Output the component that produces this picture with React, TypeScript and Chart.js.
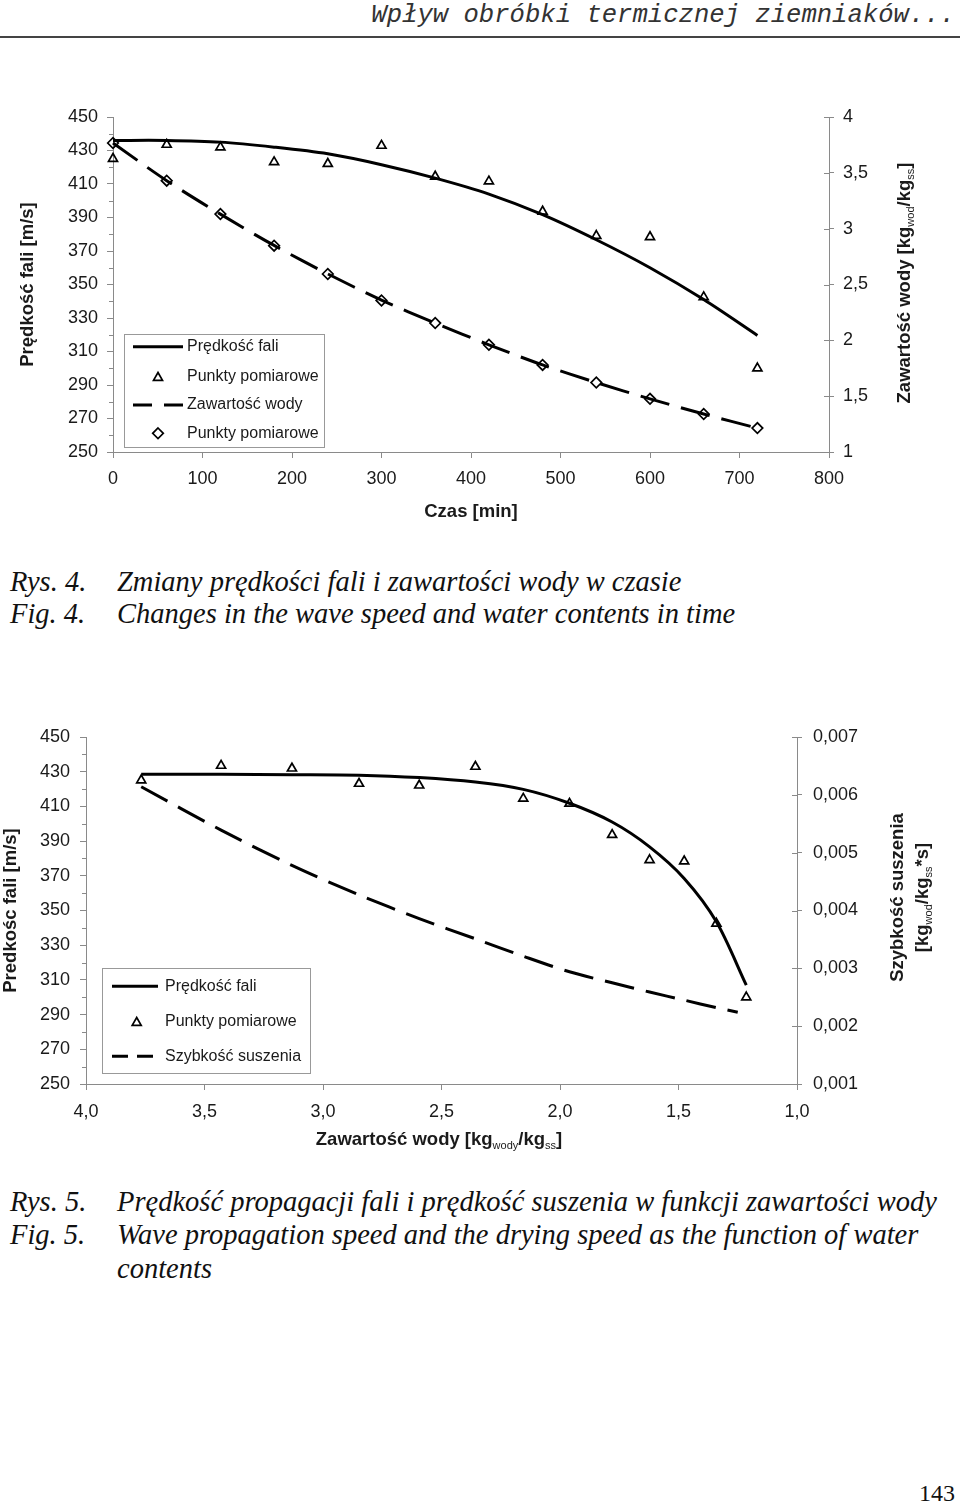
import React, { useEffect, useRef } from 'react';
import { Chart, registerables } from 'chart.js';

Chart.register(...registerables);

const SANS = "'Liberation Sans', Arial, Helvetica, sans-serif";
const SERIF = "'Liberation Serif', 'Times New Roman', serif";
const MONO = "'Liberation Mono', 'Courier New', monospace";
const INK = '#1a1a1a';
const AXIS = '#8a8a8a';

// ---------- Fig. 4 : wave speed and water content vs time ----------
const timeMin = [0, 60, 120, 180, 240, 300, 360, 420, 480, 540, 600, 660, 720];
const speedMeasured = [425.1, 433.5, 431.9, 423.1, 422.1, 432.9, 414.5, 411.6, 393.6, 379.1, 378.4, 342.5, 300];
const speedFitTime = [436, 436, 435, 432, 428, 421.5, 413.5, 404, 391.7, 376.7, 360, 341, 319.6];
const waterMeasured = [3.767, 3.43, 3.131, 2.848, 2.594, 2.357, 2.155, 1.96, 1.78, 1.622, 1.476, 1.34, 1.214];
const waterFit = [3.767, 3.43, 3.13, 2.85, 2.595, 2.36, 2.155, 1.96, 1.78, 1.622, 1.476, 1.34, 1.214];

const timeTicks = [0, 100, 200, 300, 400, 500, 600, 700, 800];
const timeTickLabels = ['0', '100', '200', '300', '400', '500', '600', '700', '800'];
const speedTicks = [250, 270, 290, 310, 330, 350, 370, 390, 410, 430, 450];
const speedTickLabels = ['250', '270', '290', '310', '330', '350', '370', '390', '410', '430', '450'];
const speedMinorTicks = [260, 280, 300, 320, 340, 360, 380, 400, 420, 440];
const waterTicks = [1, 1.5, 2, 2.5, 3, 3.5, 4];
const waterTickLabels = ['1', '1,5', '2', '2,5', '3', '3,5', '4'];

// ---------- Fig. 5 : wave speed and drying speed vs water content ----------
const speedFitWater = [428.5, 428.5, 428.3, 428, 426.6, 424, 419.8, 411.8, 401, 386.7, 368.5, 343.5, 307];
const dryingWater = [3.767, 3.43, 3.131, 2.848, 2.594, 2.357, 2.155, 1.96, 1.78, 1.622, 1.476, 1.34, 1.25];
const dryingSpeed = [0.00614, 0.00539, 0.00478, 0.00427, 0.00386, 0.00351, 0.00321, 0.00294, 0.00275, 0.00259, 0.00245, 0.00232, 0.00224];

const contentTicks = [1, 1.5, 2, 2.5, 3, 3.5, 4];
const contentTickLabels = ['1,0', '1,5', '2,0', '2,5', '3,0', '3,5', '4,0'];
const dryTicks = [0.001, 0.002, 0.003, 0.004, 0.005, 0.006, 0.007];
const dryTickLabels = ['0,001', '0,002', '0,003', '0,004', '0,005', '0,006', '0,007'];

type Part = { t: string; sub?: boolean };
type Rich = { parts: Part[]; x: number; y: number; rotate: boolean };
type LegendRow = { kind: 'line' | 'dash' | 'tri' | 'dia'; y: number; text: string };
type LegendSpec = { box: [number, number, number, number]; sample: [number, number]; markerX: number; textX: number; dash: number[]; rows: LegendRow[] };

const TRI_R = 5.2;
const DIA_R = 5.3;
const MARK_W = 1.7;

function drawTri(ctx: CanvasRenderingContext2D, x: number, y: number, r: number) {
  ctx.beginPath();
  for (let k = 0; k < 3; k++) {
    const a = (k * 2 * Math.PI) / 3;
    const px = x + Math.sin(a) * r;
    const py = y - Math.cos(a) * r;
    if (k === 0) ctx.moveTo(px, py);
    else ctx.lineTo(px, py);
  }
  ctx.closePath();
  ctx.stroke();
}
function drawDia(ctx: CanvasRenderingContext2D, x: number, y: number, r: number) {
  ctx.beginPath();
  ctx.moveTo(x, y - r);
  ctx.lineTo(x + r, y);
  ctx.lineTo(x, y + r);
  ctx.lineTo(x - r, y);
  ctx.closePath();
  ctx.stroke();
}

function drawRich(ctx: CanvasRenderingContext2D, r: Rich, size: number) {
  ctx.save();
  ctx.translate(r.x, r.y);
  if (r.rotate) ctx.rotate(-Math.PI / 2);
  const main = `bold ${size}px ${SANS}`;
  const sub = `${Math.round(size * 0.62)}px ${SANS}`;
  let total = 0;
  for (const p of r.parts) {
    ctx.font = p.sub ? sub : main;
    total += ctx.measureText(p.t).width;
  }
  let x = -total / 2;
  ctx.textBaseline = 'middle';
  ctx.textAlign = 'left';
  ctx.fillStyle = INK;
  for (const p of r.parts) {
    ctx.font = p.sub ? sub : main;
    ctx.fillText(p.t, x, p.sub ? size * 0.32 : 0);
    x += ctx.measureText(p.t).width;
  }
  ctx.restore();
}

function extrasPlugin(minor: number[], legend: LegendSpec, titles: Rich[]) {
  return {
    id: 'extras',
    afterDraw(chart: any) {
      const ctx: CanvasRenderingContext2D = chart.ctx;
      const ca = chart.chartArea;
      const y = chart.scales.y;
      const y1 = chart.scales.y1;
      ctx.save();
      ctx.strokeStyle = AXIS;
      ctx.lineWidth = 1;
      ctx.beginPath();
      for (const v of minor) {
        const py = Math.round(y.getPixelForValue(v)) + 0.5;
        ctx.moveTo(ca.left - 4, py);
        ctx.lineTo(ca.left, py);
      }
      for (const t of y1.ticks) {
        const py = Math.round(y1.getPixelForValue(t.value)) + 0.5;
        ctx.moveTo(ca.right, py);
        ctx.lineTo(ca.right - 5, py);
      }
      ctx.stroke();

      const [bx, by, bw, bh] = legend.box;
      ctx.fillStyle = '#fff';
      ctx.fillRect(bx, by, bw, bh);
      ctx.strokeStyle = '#999';
      ctx.lineWidth = 1;
      ctx.strokeRect(Math.round(bx) + 0.5, Math.round(by) + 0.5, Math.round(bw), Math.round(bh));
      ctx.font = `16px ${SANS}`;
      ctx.textBaseline = 'middle';
      ctx.textAlign = 'left';
      for (const row of legend.rows) {
        ctx.strokeStyle = '#000';
        if (row.kind === 'line' || row.kind === 'dash') {
          ctx.lineWidth = 3;
          ctx.setLineDash(row.kind === 'dash' ? legend.dash : []);
          ctx.beginPath();
          ctx.moveTo(legend.sample[0], row.y);
          ctx.lineTo(legend.sample[1], row.y);
          ctx.stroke();
          ctx.setLineDash([]);
        } else if (row.kind === 'tri') {
          ctx.lineWidth = MARK_W;
          drawTri(ctx, legend.markerX, row.y + 1, TRI_R);
        } else {
          ctx.lineWidth = MARK_W;
          drawDia(ctx, legend.markerX, row.y, DIA_R);
        }
        ctx.fillStyle = INK;
        ctx.fillText(row.text, legend.textX, row.y);
      }

      for (const t of titles) drawRich(ctx, t, 18.5);
      ctx.restore();
    },
  };
}

function tickFont() {
  return { family: SANS, size: 18 };
}
function titleFont() {
  return { family: SANS, size: 18.5, weight: 'bold' as const };
}

const lineBase = { showLine: true, borderColor: '#000', borderWidth: 3, pointRadius: 0, tension: 0.3, clip: false };
const triBase = {
  showLine: false, pointStyle: 'triangle', pointRadius: TRI_R, pointBorderWidth: MARK_W,
  pointBorderColor: '#000', pointBackgroundColor: 'rgba(0,0,0,0)', clip: false,
};
const diaBase = {
  showLine: false, pointStyle: 'rectRot', pointRadius: DIA_R, pointBorderWidth: MARK_W,
  pointBorderColor: '#000', pointBackgroundColor: 'rgba(0,0,0,0)', clip: false,
};

function buildFig4() {
  return {
    type: 'scatter',
    data: {
      datasets: [
        { ...lineBase, label: 'Prędkość fali', data: timeMin.map((t, i) => ({ x: t, y: speedFitTime[i] })), yAxisID: 'y', order: 2 },
        { ...triBase, label: 'Punkty pomiarowe', data: timeMin.map((t, i) => ({ x: t, y: speedMeasured[i] })), yAxisID: 'y', order: 0 },
        { ...lineBase, borderDash: [30, 12], label: 'Zawartość wody', data: timeMin.map((t, i) => ({ x: t, y: waterFit[i] })), yAxisID: 'y1', order: 3 },
        { ...diaBase, label: 'Punkty pomiarowe', data: timeMin.map((t, i) => ({ x: t, y: waterMeasured[i] })), yAxisID: 'y1', order: 1 },
      ],
    },
    options: {
      animation: false,
      responsive: true,
      maintainAspectRatio: false,
      events: [],
      layout: { padding: { top: 27, left: 0, right: 0, bottom: 0 } },
      plugins: { legend: { display: false }, tooltip: { enabled: false } },
      scales: {
        x: {
          type: 'linear', position: 'bottom', min: 0, max: 800,
          afterBuildTicks: (s: any) => { s.ticks = timeTicks.map((v) => ({ value: v })); },
          ticks: { autoSkip: false, maxRotation: 0, padding: 10, color: INK, font: tickFont(), callback: (_v: any, i: number) => timeTickLabels[i] },
          grid: { drawOnChartArea: false, drawTicks: true, tickLength: 6, color: AXIS },
          border: { display: true, color: AXIS, width: 1 },
          title: { display: true, text: 'Czas [min]', color: INK, font: titleFont(), padding: { top: 0, bottom: 17 } },
          afterFit: (s: any) => { s.height = 88; },
        },
        y: {
          type: 'linear', position: 'left', min: 250, max: 450,
          afterBuildTicks: (s: any) => { s.ticks = speedTicks.map((v) => ({ value: v })); },
          ticks: { autoSkip: false, padding: 9, color: INK, font: tickFont(), callback: (_v: any, i: number) => speedTickLabels[i] },
          grid: { drawOnChartArea: false, drawTicks: true, tickLength: 6, color: AXIS },
          border: { display: true, color: AXIS, width: 1 },
          title: { display: true, text: 'Prędkość fali [m/s]', color: INK, font: titleFont(), padding: { top: 17, bottom: 0 } },
          afterFit: (s: any) => { s.width = 113; },
        },
        y1: {
          type: 'linear', position: 'right', min: 1, max: 4,
          afterBuildTicks: (s: any) => { s.ticks = waterTicks.map((v) => ({ value: v })); },
          ticks: { autoSkip: false, padding: 9, color: INK, font: tickFont(), callback: (_v: any, i: number) => waterTickLabels[i] },
          grid: { drawOnChartArea: false, drawTicks: true, tickLength: 5, color: AXIS },
          border: { display: true, color: AXIS, width: 1 },
          afterFit: (s: any) => { s.width = 131; },
        },
      },
    },
    plugins: [
      extrasPlugin(
        speedMinorTicks,
        {
          box: [124, 243.5, 200, 113],
          sample: [133, 183],
          markerX: 158,
          textX: 187,
          dash: [19, 12],
          rows: [
            { kind: 'line', y: 256.7, text: 'Prędkość fali' },
            { kind: 'tri', y: 286.7, text: 'Punkty pomiarowe' },
            { kind: 'dash', y: 315, text: 'Zawartość wody' },
            { kind: 'dia', y: 343.3, text: 'Punkty pomiarowe' },
          ],
        },
        [
          {
            parts: [{ t: 'Zawartość wody [kg' }, { t: 'wod', sub: true }, { t: '/kg' }, { t: 'ss', sub: true }, { t: ']' }],
            x: 905, y: 193, rotate: true,
          },
        ],
      ),
    ],
  };
}

function buildFig5() {
  return {
    type: 'scatter',
    data: {
      datasets: [
        { ...lineBase, label: 'Prędkość fali', data: waterMeasured.map((w, i) => ({ x: w, y: speedFitWater[i] })), yAxisID: 'y', order: 2 },
        { ...triBase, label: 'Punkty pomiarowe', data: waterMeasured.map((w, i) => ({ x: w, y: speedMeasured[i] })), yAxisID: 'y', order: 0 },
        { ...lineBase, borderDash: [30, 12], label: 'Szybkość suszenia', data: dryingWater.map((w, i) => ({ x: w, y: dryingSpeed[i] })), yAxisID: 'y1', order: 3 },
      ],
    },
    options: {
      animation: false,
      responsive: true,
      maintainAspectRatio: false,
      events: [],
      layout: { padding: { top: 37, left: 0, right: 0, bottom: 0 } },
      plugins: { legend: { display: false }, tooltip: { enabled: false } },
      scales: {
        x: {
          type: 'linear', position: 'bottom', min: 1, max: 4, reverse: true,
          afterBuildTicks: (s: any) => { s.ticks = contentTicks.map((v) => ({ value: v })); },
          ticks: { autoSkip: false, maxRotation: 0, padding: 11, color: INK, font: tickFont(), callback: (_v: any, i: number) => contentTickLabels[i] },
          grid: { drawOnChartArea: false, drawTicks: true, tickLength: 6, color: AXIS },
          border: { display: true, color: AXIS, width: 1 },
          afterFit: (s: any) => { s.height = 76; },
        },
        y: {
          type: 'linear', position: 'left', min: 250, max: 450,
          afterBuildTicks: (s: any) => { s.ticks = speedTicks.map((v) => ({ value: v })); },
          ticks: { autoSkip: false, padding: 10, color: INK, font: tickFont(), callback: (_v: any, i: number) => speedTickLabels[i] },
          grid: { drawOnChartArea: false, drawTicks: true, tickLength: 6, color: AXIS },
          border: { display: true, color: AXIS, width: 1 },
          title: { display: true, text: 'Predkośc fali [m/s]', color: INK, font: titleFont(), padding: { top: 0, bottom: 0 } },
          afterFit: (s: any) => { s.width = 86; },
        },
        y1: {
          type: 'linear', position: 'right', min: 0.001, max: 0.007,
          afterBuildTicks: (s: any) => { s.ticks = dryTicks.map((v) => ({ value: v })); },
          ticks: { autoSkip: false, padding: 11, color: INK, font: tickFont(), callback: (_v: any, i: number) => dryTickLabels[i] },
          grid: { drawOnChartArea: false, drawTicks: true, tickLength: 5, color: AXIS },
          border: { display: true, color: AXIS, width: 1 },
          afterFit: (s: any) => { s.width = 163; },
        },
      },
    },
    plugins: [
      extrasPlugin(
        speedMinorTicks,
        {
          box: [101.7, 268.3, 207.6, 105],
          sample: [112, 158],
          markerX: 136.7,
          textX: 165,
          dash: [16, 9],
          rows: [
            { kind: 'line', y: 286.3, text: 'Prędkość fali' },
            { kind: 'tri', y: 321.7, text: 'Punkty pomiarowe' },
            { kind: 'dash', y: 356.3, text: 'Szybkość suszenia' },
          ],
        },
        [
          { parts: [{ t: 'Szybkość suszenia' }], x: 898, y: 197.5, rotate: true },
          {
            parts: [{ t: '[kg' }, { t: 'wod', sub: true }, { t: '/kg' }, { t: 'ss', sub: true }, { t: '*s]' }],
            x: 923, y: 197.5, rotate: true,
          },
          {
            parts: [{ t: 'Zawartość wody [kg' }, { t: 'wody', sub: true }, { t: '/kg' }, { t: 'ss', sub: true }, { t: ']' }],
            x: 439, y: 440, rotate: false,
          },
        ],
      ),
    ],
  };
}

function ChartBox({ top, height, build }: { top: number; height: number; build: () => any }) {
  const ref = useRef<HTMLCanvasElement>(null);
  useEffect(() => {
    const chart = new Chart(ref.current as HTMLCanvasElement, build());
    return () => chart.destroy();
  }, []);
  return (
    <div style={{ position: 'absolute', left: 0, top, width: 960, height }}>
      <canvas ref={ref} />
    </div>
  );
}

const capBase: React.CSSProperties = {
  position: 'absolute',
  fontFamily: SERIF,
  fontStyle: 'italic',
  fontSize: 28.5,
  lineHeight: '33px',
  color: '#111',
  whiteSpace: 'nowrap',
};

function CapLine({ top, label, text }: { top: number; label: string; text: string }) {
  return (
    <>
      {label ? <div style={{ ...capBase, left: 10, top }}>{label}</div> : null}
      <div style={{ ...capBase, left: 117, top }}>{text}</div>
    </>
  );
}

export default function App() {
  return (
    <div style={{ position: 'absolute', left: 0, top: 0, width: 960, height: 1504, background: '#fff', overflow: 'hidden' }}>
      <div
        style={{
          position: 'absolute', right: 5, top: 2, fontFamily: MONO, fontStyle: 'italic',
          fontSize: 25.6, lineHeight: '28px', color: '#333', whiteSpace: 'nowrap',
        }}
      >
        Wpływ obróbki termicznej ziemniaków...
      </div>
      <div style={{ position: 'absolute', left: 0, top: 36, width: 960, height: 2, background: '#444' }} />

      <ChartBox top={90} height={450} build={buildFig4} />
      <CapLine top={564.5} label="Rys. 4." text="Zmiany prędkości fali i zawartości wody w czasie" />
      <CapLine top={596.5} label="Fig. 4." text="Changes in the wave speed and water contents in time" />

      <ChartBox top={700} height={460} build={buildFig5} />
      <CapLine top={1184.5} label="Rys. 5." text="Prędkość propagacji fali i prędkość suszenia w funkcji zawartości wody" />
      <CapLine top={1217.5} label="Fig. 5." text="Wave propagation speed and the drying speed as the function of water" />
      <CapLine top={1251.5} label="" text="contents" />

      <div
        style={{
          position: 'absolute', right: 5, top: 1479, fontFamily: SERIF, fontSize: 24,
          lineHeight: '28px', color: '#111',
        }}
      >
        143
      </div>
    </div>
  );
}
